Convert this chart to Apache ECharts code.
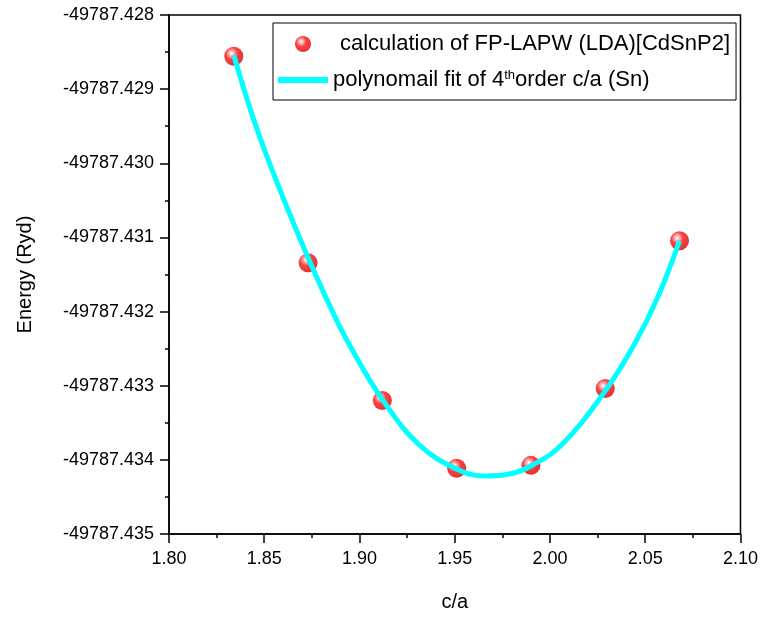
<!DOCTYPE html>
<html>
<head>
<meta charset="utf-8">
<script src="https://cdn.jsdelivr.net/npm/echarts@6/dist/echarts.min.js"></script>
<style>
html,body{margin:0;padding:0;background:#fff;}
#chart{width:761px;height:617px;}
</style>
</head>
<body>
<div id="chart"></div>
<script>
// Calculated points
const caPoints = [1.834, 1.873, 1.912, 1.951, 1.990, 2.029, 2.068];
const energyPoints = [-49787.428556, -49787.431342, -49787.433199, -49787.434114, -49787.434074, -49787.433037, -49787.431046];

// Polynomial fit curve
const fitCa = [1.834, 1.848, 1.869, 1.887, 1.898, 1.912, 1.931, 1.951, 1.966, 1.978, 1.990, 2.006, 2.029, 2.0445, 2.0565, 2.068];
const fitEnergy = [-49787.428542, -49787.429670, -49787.431032, -49787.432065, -49787.432600, -49787.433185, -49787.433790, -49787.434122, -49787.434218, -49787.434195, -49787.434082, -49787.433800, -49787.433070, -49787.432430, -49787.431810, -49787.431046];

// Axis ticks
const xTicks = {min: 1.80, max: 2.10, interval: 0.05};
const yTicks = {min: -49787.435, max: -49787.428, interval: 0.001};

const nameCalc = 'calculation of FP-LAPW (LDA)[CdSnP2]';
const nameFit = 'polynomail fit of 4th order c/a (Sn)';

const FONT = 'Arial, "Liberation Sans", sans-serif';

const chart = echarts.init(document.getElementById('chart'));
chart.setOption({
  animation: false,
  backgroundColor: '#fff',
  grid: {left: 169, right: 20, top: 15, bottom: 82, show: true, borderColor: '#000', borderWidth: 1.5, backgroundColor: 'transparent'},
  legend: {
    orient: 'vertical',
    left: 273, top: 23,
    padding: [10, 6, 9, 5],
    itemGap: 14,
    itemWidth: 50,
    itemHeight: 16,
    symbolKeepAspect: true,
    borderColor: '#000',
    borderWidth: 1,
    data: [
      {name: nameCalc},
      {name: nameFit, icon: 'path://M0 0H50V6H0Z', itemStyle: {color: '#00ffff'}}
    ],
    formatter: function (n) {
      if (n === nameFit) return 'polynomail fit of 4{sup|th}order c/a (Sn)';
      return '{a|' + n + '}';
    },
    textStyle: {
      fontFamily: FONT, fontSize: 22, color: '#000',
      rich: {
        a: {fontFamily: FONT, fontSize: 22, color: '#000', padding: [0, 0, 0, 7]},
        sup: {fontFamily: FONT, fontSize: 13, color: '#000', verticalAlign: 'top', padding: [0, 0, 8, 0]}
      }
    }
  },
  xAxis: {
    type: 'value',
    min: xTicks.min, max: xTicks.max, interval: xTicks.interval,
    name: 'c/a', nameLocation: 'middle', nameGap: 58,
    nameTextStyle: {fontFamily: FONT, fontSize: 20, color: '#000'},
    axisLine: {show: true, lineStyle: {color: '#000', width: 1.5}},
    axisTick: {show: true, inside: false, length: 9, lineStyle: {color: '#000', width: 1.5}},
    minorTick: {show: true, splitNumber: 2, length: 4, lineStyle: {color: '#000', width: 1.5}},
    splitLine: {show: false},
    axisLabel: {fontFamily: FONT, fontSize: 18, color: '#000', margin: 16, formatter: v => v.toFixed(2)}
  },
  yAxis: {
    type: 'value',
    min: yTicks.min, max: yTicks.max, interval: yTicks.interval,
    name: 'Energy (Ryd)', nameLocation: 'middle', nameGap: 134, nameRotate: 90,
    nameTextStyle: {fontFamily: FONT, fontSize: 20, color: '#000'},
    axisLine: {show: true, lineStyle: {color: '#000', width: 1.5}},
    axisTick: {show: true, inside: false, length: 9, lineStyle: {color: '#000', width: 1.5}},
    minorTick: {show: true, splitNumber: 2, length: 4, lineStyle: {color: '#000', width: 1.5}},
    splitLine: {show: false},
    axisLabel: {fontFamily: FONT, fontSize: 18, color: '#000', margin: 15, formatter: v => v.toFixed(3)}
  },
  series: [
    {
      name: nameCalc,
      type: 'scatter',
      z: 2,
      symbol: 'circle',
      symbolSize: 19,
      itemStyle: {
        color: {
          type: 'radial', x: 0.38, y: 0.35, r: 0.7,
          colorStops: [
            {offset: 0, color: '#ffffff'},
            {offset: 0.2, color: '#ff9a9a'},
            {offset: 0.45, color: '#ff1010'},
            {offset: 1, color: '#d00000'}
          ]
        }
      },
      data: caPoints.map((c, i) => [c, energyPoints[i]])
    },
    {
      name: nameFit,
      type: 'line',
      z: 3,
      symbol: 'none',
      showSymbol: false,
      smooth: 0.4,
      lineStyle: {color: '#00ffff', width: 5},
      itemStyle: {color: '#00ffff'},
      data: fitCa.map((c, i) => [c, fitEnergy[i]])
    }
  ]
});
</script>
</body>
</html>
